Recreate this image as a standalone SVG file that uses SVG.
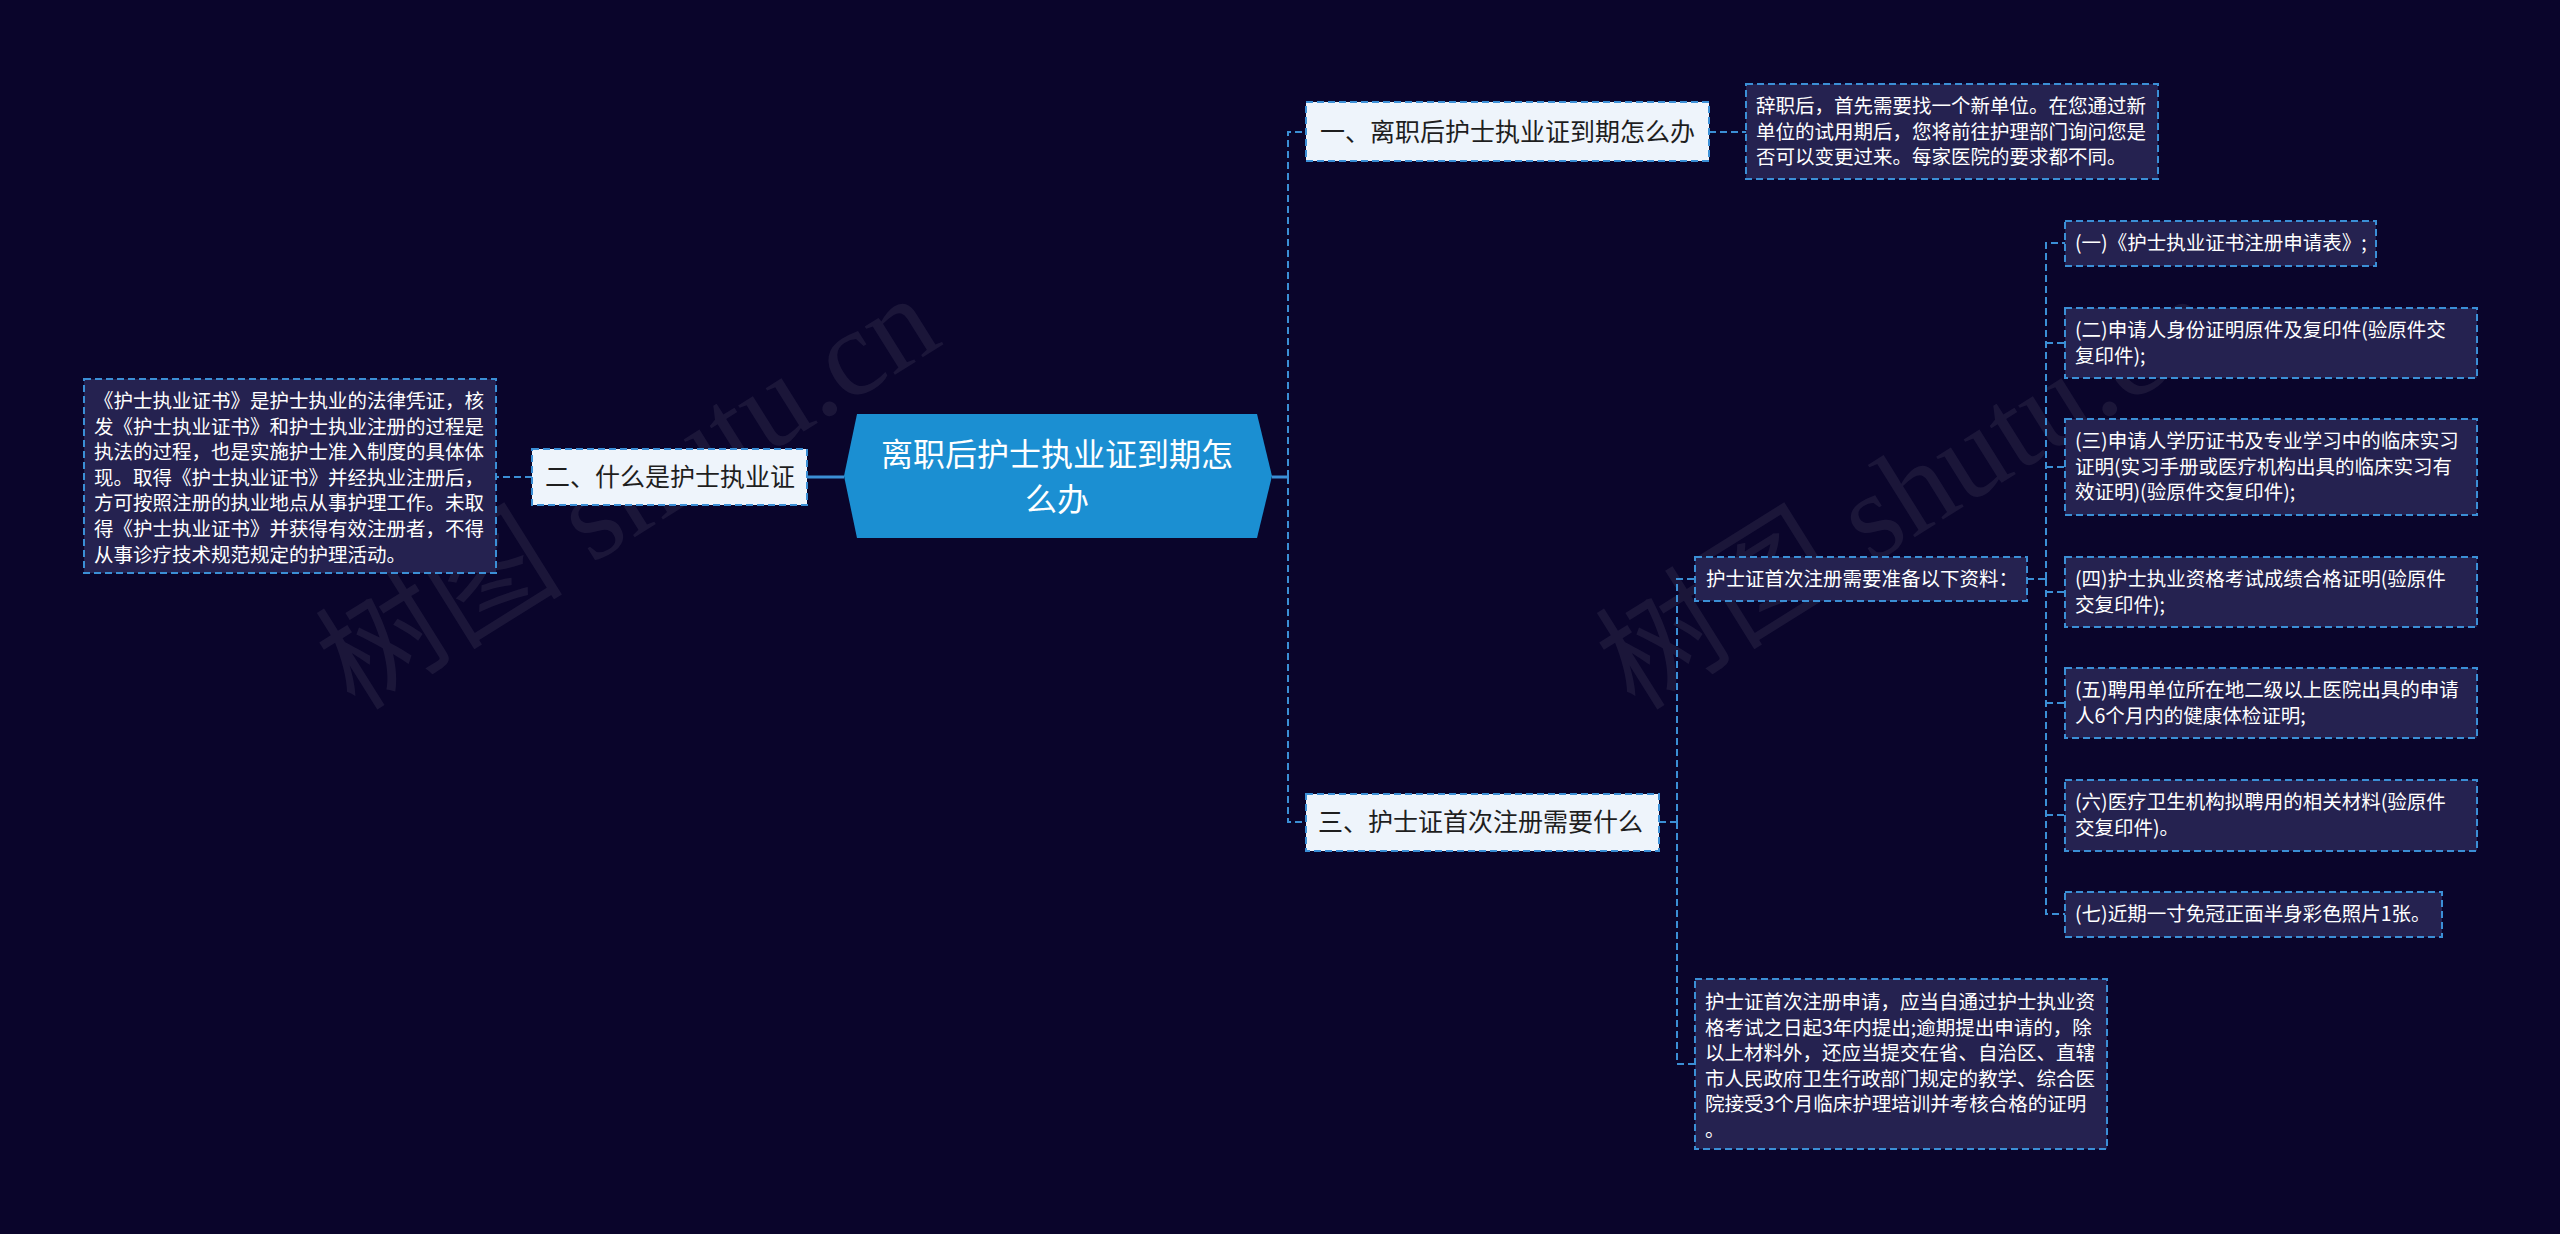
<svg xmlns="http://www.w3.org/2000/svg" width="2560" height="1234" viewBox="0 0 2560 1234">
<style>
.bg{fill:#0a052b}
.wm{font-family:"Liberation Serif","Noto Sans CJK SC",serif;font-size:124px;fill:#ffffff;fill-opacity:0.07}
.root{fill:#1b8fd2}
.rt{font-family:"Noto Sans CJK SC","Noto Sans",sans-serif;font-size:32px;fill:#ffffff;text-anchor:middle}
.l1{fill:#eef4fb;stroke:#3b8fd6;stroke-width:2;stroke-dasharray:7 4}
.l1t{font-family:"Noto Sans CJK SC","Noto Sans",sans-serif;font-size:25px;fill:#1e1e1e}
.lf{fill:#252250;stroke:#3b8fd6;stroke-width:2;stroke-dasharray:7 4}
.lft{font-family:"Noto Sans CJK SC","Noto Sans",sans-serif;font-size:19.5px;fill:#ffffff}
.c{fill:none;stroke:#3b8fd6;stroke-width:2;stroke-dasharray:7 4}
.cs{fill:none;stroke:#3b8fd6;stroke-width:3}
</style>
<rect class="bg" x="0" y="0" width="2560" height="1234"/>
<g id="watermarks">
<text class="wm" x="355" y="712" transform="rotate(-32 355 712)">树图 shutu.cn</text>
<text class="wm" x="1635" y="712" transform="rotate(-32 1635 712)">树图 shutu.cn</text>
</g>
<g id="connectors">
<path class="cs" d="M844,477 H807"/>
<path class="c" d="M532,477 H496"/>
<path class="cs" d="M1272,477 H1288"/>
<path class="c" d="M1288,477 V132 H1306"/>
<path class="c" d="M1288,477 V822 H1306"/>
<path class="c" d="M1709,132 H1746"/>
<path class="c" d="M1659,822 H1677"/>
<path class="c" d="M1677,822 V579 H1695"/>
<path class="c" d="M1677,822 V1064 H1695"/>
<path class="c" d="M2027,579 H2046"/>
<path class="c" d="M2046,579 V243 H2065"/>
<path class="c" d="M2046,579 V914 H2065"/>
<path class="c" d="M2046,343 H2065"/>
<path class="c" d="M2046,467 H2065"/>
<path class="c" d="M2046,592 H2065"/>
<path class="c" d="M2046,703 H2065"/>
<path class="c" d="M2046,815 H2065"/>
</g>
<g id="root">
<polygon class="root" points="844,476 857,414 1257,414 1272,476 1257,538 857,538"/>
<text class="rt" x="1057" y="466">离职后护士执业证到期怎</text>
<text class="rt" x="1057" y="511">么办</text>
</g>
<g id="n2">
<rect class="l1" x="532" y="449" width="275" height="56"/>
<text class="l1t" x="545" y="486">二、什么是护士执业证</text>
</g>
<g id="n2a">
<rect class="lf" x="84" y="379" width="412" height="194"/>
<text class="lft" x="94" y="408">《护士执业证书》是护士执业的法律凭证，核</text>
<text class="lft" x="94" y="433.6">发《护士执业证书》和护士执业注册的过程是</text>
<text class="lft" x="94" y="459.2">执法的过程，也是实施护士准入制度的具体体</text>
<text class="lft" x="94" y="484.8">现。取得《护士执业证书》并经执业注册后，</text>
<text class="lft" x="94" y="510.4">方可按照注册的执业地点从事护理工作。未取</text>
<text class="lft" x="94" y="536">得《护士执业证书》并获得有效注册者，不得</text>
<text class="lft" x="94" y="561.6">从事诊疗技术规范规定的护理活动。</text>
</g>
<g id="n1">
<rect class="l1" x="1306" y="102" width="403" height="59"/>
<text class="l1t" x="1320" y="141">一、离职后护士执业证到期怎么办</text>
</g>
<g id="n1a">
<rect class="lf" x="1746" y="84" width="412" height="95"/>
<text class="lft" x="1756" y="113">辞职后，首先需要找一个新单位。在您通过新</text>
<text class="lft" x="1756" y="138.6">单位的试用期后，您将前往护理部门询问您是</text>
<text class="lft" x="1756" y="164.2">否可以变更过来。每家医院的要求都不同。</text>
</g>
<g id="n3">
<rect class="l1" x="1306" y="794" width="353" height="57"/>
<text class="l1t" x="1318" y="831">三、护士证首次注册需要什么</text>
</g>
<g id="n3a">
<rect class="lf" x="1695" y="557" width="332" height="44"/>
<text class="lft" x="1706" y="586">护士证首次注册需要准备以下资料：</text>
</g>
<g id="n3b">
<rect class="lf" x="1695" y="979" width="412" height="170"/>
<text class="lft" x="1705" y="1009">护士证首次注册申请，应当自通过护士执业资</text>
<text class="lft" x="1705" y="1034.6">格考试之日起3年内提出;逾期提出申请的，除</text>
<text class="lft" x="1705" y="1060.2">以上材料外，还应当提交在省、自治区、直辖</text>
<text class="lft" x="1705" y="1085.8">市人民政府卫生行政部门规定的教学、综合医</text>
<text class="lft" x="1705" y="1111.4">院接受3个月临床护理培训并考核合格的证明</text>
<text class="lft" x="1705" y="1137">。</text>
</g>
<g id="m1">
<rect class="lf" x="2065" y="221" width="311" height="45"/>
<text class="lft" x="2075" y="250">(一)《护士执业证书注册申请表》;</text>
</g>
<g id="m2">
<rect class="lf" x="2065" y="308" width="412" height="70"/>
<text class="lft" x="2075" y="337">(二)申请人身份证明原件及复印件(验原件交</text>
<text class="lft" x="2075" y="362.6">复印件);</text>
</g>
<g id="m3">
<rect class="lf" x="2065" y="419" width="412" height="96"/>
<text class="lft" x="2075" y="448">(三)申请人学历证书及专业学习中的临床实习</text>
<text class="lft" x="2075" y="473.6">证明(实习手册或医疗机构出具的临床实习有</text>
<text class="lft" x="2075" y="499.2">效证明)(验原件交复印件);</text>
</g>
<g id="m4">
<rect class="lf" x="2065" y="557" width="412" height="70"/>
<text class="lft" x="2075" y="586">(四)护士执业资格考试成绩合格证明(验原件</text>
<text class="lft" x="2075" y="611.6">交复印件);</text>
</g>
<g id="m5">
<rect class="lf" x="2065" y="668" width="412" height="70"/>
<text class="lft" x="2075" y="697">(五)聘用单位所在地二级以上医院出具的申请</text>
<text class="lft" x="2075" y="722.6">人6个月内的健康体检证明;</text>
</g>
<g id="m6">
<rect class="lf" x="2065" y="780" width="412" height="71"/>
<text class="lft" x="2075" y="809">(六)医疗卫生机构拟聘用的相关材料(验原件</text>
<text class="lft" x="2075" y="834.6">交复印件)。</text>
</g>
<g id="m7">
<rect class="lf" x="2065" y="892" width="377" height="45"/>
<text class="lft" x="2075" y="921">(七)近期一寸免冠正面半身彩色照片1张。</text>
</g>
</svg>
